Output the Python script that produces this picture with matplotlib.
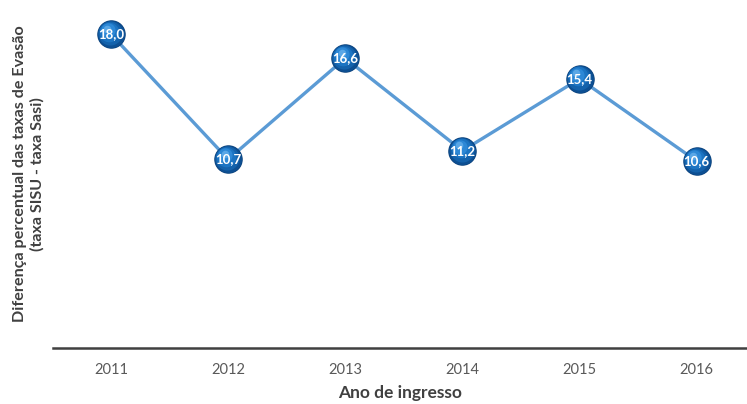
import matplotlib.pyplot as plt
from matplotlib.transforms import offset_copy

plt.rcParams['font.family'] = ['Lato', 'DejaVu Sans']

# Dados
anos = ['2011', '2012', '2013', '2014', '2015', '2016']
diferenca = [18.0, 10.7, 16.6, 11.2, 15.4, 10.6]
rotulos = ['18,0', '10,7', '16,6', '11,2', '15,4', '10,6']

fig = plt.figure(figsize=(7.47, 4.04), dpi=100)
ax = fig.add_axes([0.071, 0.139, 0.929, 0.861])

x = list(range(len(anos)))

# Linha
ax.plot(x, diferenca, color='#5b9bd5', lw=2.4, zorder=2, solid_capstyle='round')

# Marcadores com aspecto de esfera (camadas de circulos)
ax.scatter(x, diferenca, s=420, color='#0a3f78', zorder=3, linewidths=0)
camadas = [(385, '#0d4f92', 0.0, 0.0),
           (300, '#1462ab', -0.6, 0.9),
           (200, '#1c74c2', -1.3, 1.8),
           (105, '#2d88d6', -2.0, 2.8),
           (30, '#5aa7e6', -2.6, 4.0)]
for s, cor, dx, dy in camadas:
    tr = offset_copy(ax.transData, fig=fig, x=dx, y=dy, units='points')
    ax.scatter(x, diferenca, s=s, color=cor, zorder=3, linewidths=0, transform=tr)

for xi, yi, txt in zip(x, diferenca, rotulos):
    ax.text(xi, yi, txt, ha='center', va='center', color='white',
            fontsize=9.5, fontweight='bold', zorder=4)

ax.set_xlim(-0.495, 5.43)
ax.set_ylim(-0.3, 20.0)
ax.set_xticks(x)
ax.set_xticklabels(anos, fontsize=10.5, color='#595959')
ax.set_yticks([])
ax.tick_params(axis='x', length=0, pad=11)

for lado in ['top', 'right', 'left']:
    ax.spines[lado].set_visible(False)
ax.spines['bottom'].set_color('#404040')
ax.spines['bottom'].set_linewidth(1.8)

ax.set_xlabel('Ano de ingresso', fontsize=12.5, fontweight='bold', color='#404040')
ax.xaxis.set_label_coords(0.5, -0.108)
ax.set_ylabel('Diferença percentual das taxas de Evasão\n(taxa SISU - taxa Sasi)',
              fontsize=11.6, fontweight='bold', color='#404040', labelpad=6,
              linespacing=1.25)

fig.savefig('out.png', dpi=100)
